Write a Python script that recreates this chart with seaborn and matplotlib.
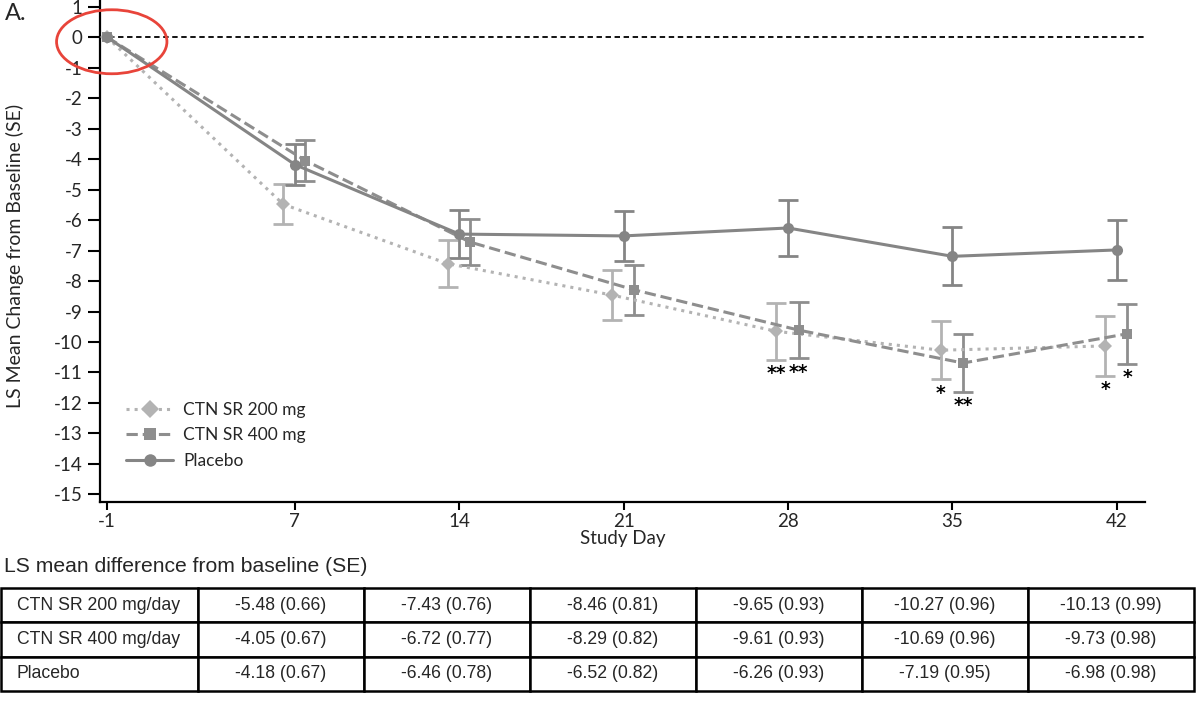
import numpy as np
import pandas as pd
import matplotlib
matplotlib.use("Agg")
import matplotlib.pyplot as plt
import seaborn as sns
from matplotlib.patches import Ellipse

# data
days = [-1, 7, 14, 21, 28, 35, 42]
groups = ["CTN SR 200 mg", "CTN SR 400 mg", "Placebo"]
table_labels = ["CTN SR 200 mg/day", "CTN SR 400 mg/day", "Placebo"]

mean_200 = [0, -5.48, -7.43, -8.46, -9.65, -10.27, -10.13]
se_200 = [0, 0.66, 0.76, 0.81, 0.93, 0.96, 0.99]
mean_400 = [0, -4.05, -6.72, -8.29, -9.61, -10.69, -9.73]
se_400 = [0, 0.67, 0.77, 0.82, 0.93, 0.96, 0.98]
mean_pbo = [0, -4.18, -6.46, -6.52, -6.26, -7.19, -6.98]
se_pbo = [0, 0.67, 0.78, 0.82, 0.93, 0.95, 0.98]

stars_200 = ["", "", "", "", "**", "*", "*"]
stars_400 = ["", "", "", "", "**", "**", "*"]

sns.set_theme(style="white")
plt.rcParams["font.family"] = ["Lato", "DejaVu Sans"]
plt.rcParams["axes.unicode_minus"] = False

fig = plt.figure(figsize=(12, 7.06), dpi=100)
ax = fig.add_axes([100 / 1200, 1 - 502 / 706, 1045 / 1200, 502 / 706])

series = [
    (mean_200, se_200, stars_200, -0.5, "#b3b3b3", ":", "D", 7.5),
    (mean_400, se_400, stars_400, 0.45, "#8e8e8e", "--", "s", 7.5),
    (mean_pbo, se_pbo, None, 0.0, "#858585", "-", "o", 8),
]

for (m, s, stars, off, col, ls, mk, ms), name in zip(series, groups):
    x = np.array(days, dtype=float)
    x[1:] += off  # small dodge so bars don't overlap
    df = pd.DataFrame({"day": x, "mean": m, "se": s})
    ax.errorbar(df["day"][1:], df["mean"][1:], yerr=df["se"][1:], fmt="none",
                ecolor=col, elinewidth=2, capsize=7, capthick=2, zorder=2)
    sns.lineplot(data=df, x="day", y="mean", ax=ax, color=col, linestyle=ls,
                 linewidth=2.2, marker=mk, markersize=ms, markeredgewidth=0,
                 label=name, zorder=3)
    if stars is not None:
        for xi, mi, si, st in zip(df["day"], m, s, stars):
            if st:
                ax.annotate(st, (xi, mi - si), xytext=(0, -3), textcoords="offset points",
                            ha="center", va="top", fontsize=13.5, fontweight="bold",
                            color="black", family="DejaVu Sans")

ax.axhline(0, color="black", linestyle=(0, (3, 2)), linewidth=1.3, zorder=1)

ax.set_xlim(-1.3, 43.2)
ax.set_ylim(-15.25, 1.22)
ax.set_xticks(days)
ax.set_yticks(range(-15, 2))
ax.tick_params(axis="both", labelsize=13.5, width=1.5, color="black",
               left=True, bottom=True)
ax.tick_params(axis="y", length=9, pad=3.5)
ax.tick_params(axis="x", length=6, pad=2)
for sp in ["top", "right"]:
    ax.spines[sp].set_visible(False)
for sp in ["left", "bottom"]:
    ax.spines[sp].set_color("black")
    ax.spines[sp].set_linewidth(1.6)
ax.set_xlabel("Study Day", fontsize=13.5, labelpad=0)
ax.set_ylabel("LS Mean Change from Baseline (SE)", fontsize=14)
ax.yaxis.set_label_coords(-76 / 1045, 0.49)

ell = Ellipse((-0.8, -0.15), 4.7, 2.1, fill=False, edgecolor="#e8443a",
              linewidth=2, clip_on=False, zorder=5)
ax.add_patch(ell)

leg = ax.legend(loc="lower left", bbox_to_anchor=(0.01, 0.035), frameon=False,
                fontsize=12.5, handlelength=2.7, labelspacing=0.55, handletextpad=0.6)
for h in leg.legend_handles:
    h.set_markersize(9)

fig.text(5 / 1200, 1 - 13 / 706, "A.", fontsize=17, va="center", ha="left")
fig.text(4 / 1200, 1 - 566 / 706, "LS mean difference from baseline (SE)",
         fontsize=15.2, family="Liberation Sans", va="center", ha="left")

# table
cells = []
for m, s in [(mean_200, se_200), (mean_400, se_400), (mean_pbo, se_pbo)]:
    cells.append([f"{mi:.2f} ({si:.2f})" for mi, si in zip(m[1:], s[1:])])

tax = fig.add_axes([1 / 1200, 1 - 691 / 706, 1193 / 1200, 103 / 706])
tax.axis("off")
tab = tax.table(cellText=[[lab] + row for lab, row in zip(table_labels, cells)],
                bbox=[0, 0, 1, 1], colWidths=[197] + [166] * 6, cellLoc="center")
tab.auto_set_font_size(False)
for (r, c), cell in tab.get_celld().items():
    cell.set_linewidth(1.8)
    cell.set_edgecolor("black")
    cell.get_text().set_fontsize(12.7)
    cell.get_text().set_family("Liberation Sans")
    if c == 0:
        cell.get_text().set_ha("left")
        cell._loc = "left"
        cell.PAD = 0.08

fig.savefig("out.png", dpi=100)
